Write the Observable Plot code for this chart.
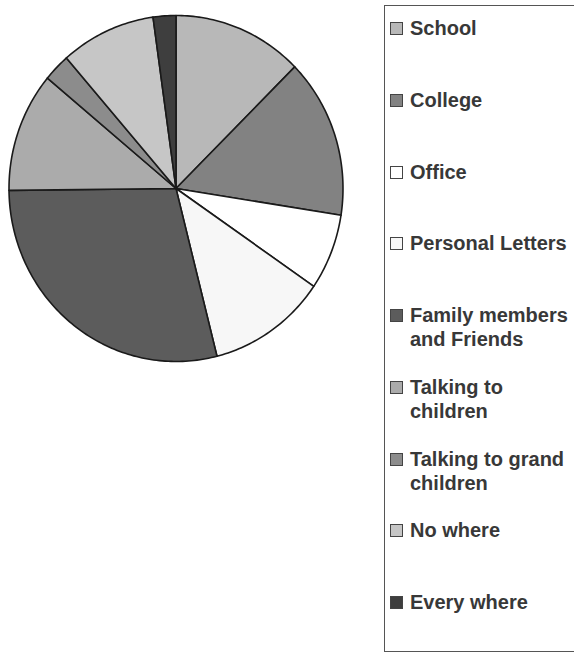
<!DOCTYPE html>
<html><head><meta charset="utf-8">
<script src="https://cdn.jsdelivr.net/npm/d3@7"></script>
<script src="https://cdn.jsdelivr.net/npm/@observablehq/plot@0.6"></script>
<style>
body{margin:0;background:#fff;}
#wrap{position:relative;width:574px;height:654px;overflow:hidden;font-family:"Liberation Sans",Arial,sans-serif;}
#wrap svg{position:absolute;left:0;top:0;}
#legend{position:absolute;left:384px;top:5px;width:230px;height:647px;border:1.5px solid #555;box-sizing:border-box;background:#fff;}
.item{position:absolute;left:5px;display:flex;align-items:flex-start;}
.sw{width:11px;height:11px;border:1px solid #444;margin-top:6px;margin-right:7px;flex:none;}
.lab{font-weight:bold;font-size:20px;line-height:24px;color:#383838;white-space:pre-line;}
</style></head><body><div id="wrap"></div>
<script>
const categories = ["School","College","Office","Personal Letters","Family members and Friends","Talking to children","Talking to grand children","No where","Every where"];
const legendLabels = ["School","College","Office","Personal Letters","Family members\nand Friends","Talking to\nchildren","Talking to grand\nchildren","No where","Every where"];
const values = [12.6,14.9,7.1,11.5,28.8,11.2,2.6,9.2,2.2];
const fills = ["#b8b8b8","#828282","#ffffff","#f7f7f7","#5c5c5c","#ababab","#8c8c8c","#c6c6c6","#3e3e3e"];

const arcs = d3.pie().sort(null).value(d => d)(values);
const pts = [];
arcs.forEach((a, i) => {
  const cat = categories[i];
  pts.push({cat, x: 0, y: 0});
  const n = Math.max(2, Math.ceil((a.endAngle - a.startAngle) / (Math.PI / 180)));
  for (let k = 0; k <= n; k++) {
    const t = a.startAngle + (a.endAngle - a.startAngle) * k / n;
    pts.push({cat, x: Math.sin(t), y: Math.cos(t)});
  }
});

const chart = Plot.plot({
  width: 574, height: 654,
  margin: 0,
  x: {domain: [-1, 1], range: [8.5, 342.5], axis: null},
  y: {domain: [-1, 1], range: [361, 15], axis: null},
  color: {domain: categories, range: fills},
  marks: [
    Plot.line(pts, {x: "x", y: "y", z: "cat", fill: "cat", stroke: "#1a1a1a", strokeWidth: 1.6, curve: "linear-closed", strokeLinejoin: "round"})
  ]
});
const wrap = document.getElementById("wrap");
wrap.appendChild(chart);

const legend = document.createElement("div");
legend.id = "legend";
wrap.appendChild(legend);
categories.forEach((c, i) => {
  const it = document.createElement("div");
  it.className = "item";
  it.style.top = (10 + 71.75 * i) + "px";
  const sw = document.createElement("div");
  sw.className = "sw";
  sw.style.background = fills[i];
  const lab = document.createElement("div");
  lab.className = "lab";
  lab.textContent = legendLabels[i];
  it.appendChild(sw); it.appendChild(lab);
  legend.appendChild(it);
});
</script></body></html>
